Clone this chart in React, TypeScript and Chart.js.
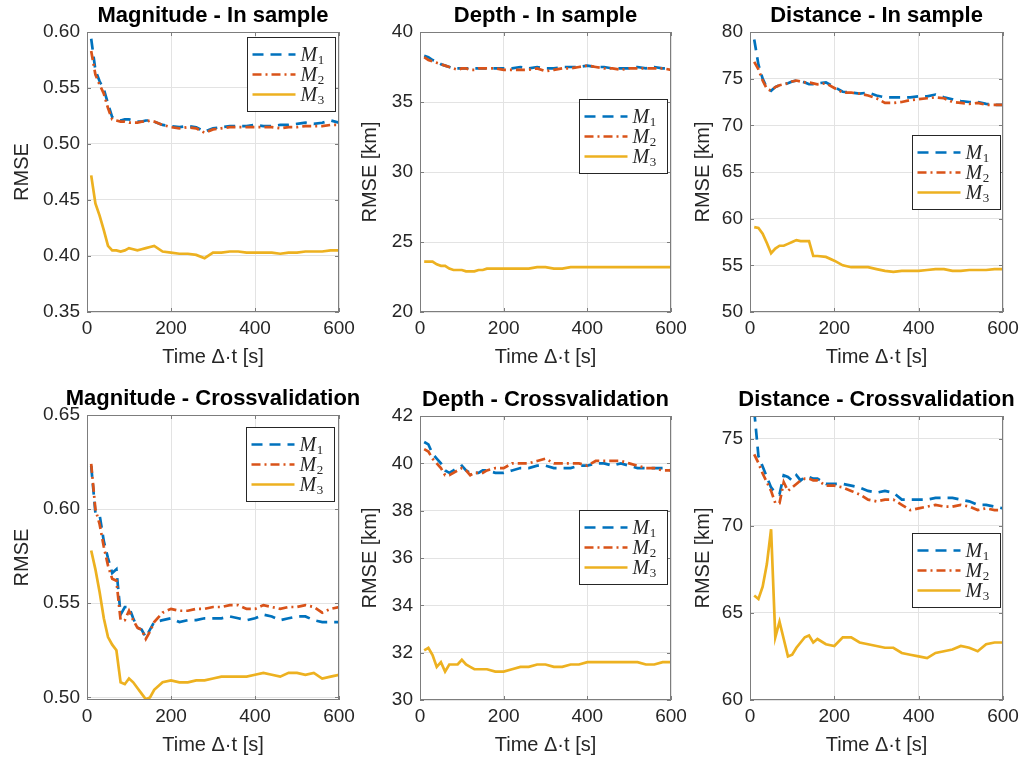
import React, { useEffect, useRef } from "react";
import { Chart, registerables } from "chart.js";

Chart.register(...registerables);

// ---------------- data ----------------
const TIME = [10, 20, 30, 40, 50, 60, 70, 80, 90, 100, 110, 120, 130, 140, 150, 160, 180, 200, 220, 240, 260, 280, 300, 320, 340, 360, 380, 400, 420, 440, 460, 480, 500, 520, 540, 560, 580, 600];

const X_TICKS = [0, 200, 400, 600];
const SERIES_LABELS = ["M", "M", "M"];
const SERIES_SUBS = ["1", "2", "3"];

// Magnitude - In sample
const MAG_IN_M1 = [0.594, 0.566, 0.556, 0.549, 0.536, 0.524, 0.522, 0.521, 0.522, 0.522, 0.521, 0.520, 0.520, 0.521, 0.521, 0.520, 0.517, 0.516, 0.515, 0.516, 0.515, 0.511, 0.514, 0.515, 0.516, 0.516, 0.516, 0.517, 0.516, 0.516, 0.517, 0.517, 0.518, 0.519, 0.518, 0.519, 0.521, 0.519];
const MAG_IN_M2 = [0.583, 0.562, 0.553, 0.545, 0.532, 0.522, 0.521, 0.520, 0.520, 0.519, 0.519, 0.519, 0.520, 0.520, 0.521, 0.520, 0.517, 0.515, 0.514, 0.515, 0.514, 0.510, 0.513, 0.514, 0.515, 0.515, 0.515, 0.515, 0.515, 0.515, 0.514, 0.515, 0.515, 0.516, 0.516, 0.516, 0.517, 0.517];
const MAG_IN_M3 = [0.472, 0.447, 0.436, 0.423, 0.409, 0.405, 0.405, 0.404, 0.405, 0.407, 0.406, 0.405, 0.406, 0.407, 0.408, 0.409, 0.404, 0.403, 0.402, 0.402, 0.401, 0.398, 0.403, 0.403, 0.404, 0.404, 0.403, 0.403, 0.403, 0.403, 0.402, 0.403, 0.403, 0.404, 0.404, 0.404, 0.405, 0.405];

// Depth - In sample
const DEP_IN_M1 = [38.3, 38.2, 38.0, 37.9, 37.7, 37.6, 37.5, 37.4, 37.4, 37.4, 37.4, 37.4, 37.4, 37.4, 37.4, 37.4, 37.4, 37.4, 37.4, 37.5, 37.4, 37.5, 37.4, 37.4, 37.5, 37.5, 37.5, 37.6, 37.5, 37.5, 37.4, 37.4, 37.4, 37.5, 37.4, 37.5, 37.4, 37.4];
const DEP_IN_M2 = [38.2, 38.0, 37.9, 37.8, 37.7, 37.6, 37.5, 37.4, 37.3, 37.4, 37.4, 37.3, 37.3, 37.4, 37.4, 37.4, 37.4, 37.3, 37.3, 37.3, 37.3, 37.4, 37.2, 37.3, 37.4, 37.4, 37.5, 37.6, 37.5, 37.4, 37.4, 37.3, 37.4, 37.4, 37.4, 37.4, 37.4, 37.3];
const DEP_IN_M3 = [23.6, 23.6, 23.6, 23.4, 23.3, 23.3, 23.1, 23.0, 23.0, 23.0, 22.9, 22.9, 22.9, 23.0, 23.0, 23.1, 23.1, 23.1, 23.1, 23.1, 23.1, 23.2, 23.2, 23.1, 23.1, 23.2, 23.2, 23.2, 23.2, 23.2, 23.2, 23.2, 23.2, 23.2, 23.2, 23.2, 23.2, 23.2];

// Distance - In sample
const DIS_IN_M1 = [79.2, 76.5, 75.0, 74.0, 73.7, 74.1, 74.3, 74.4, 74.5, 74.7, 74.8, 74.7, 74.6, 74.4, 74.4, 74.5, 74.6, 74.1, 73.6, 73.5, 73.4, 73.5, 73.2, 73.0, 73.0, 73.0, 73.0, 73.1, 73.1, 73.3, 73.0, 72.8, 72.6, 72.5, 72.5, 72.3, 72.2, 72.2];
const DIS_IN_M2 = [76.8, 76.0, 74.8, 73.9, 73.7, 74.1, 74.3, 74.4, 74.5, 74.7, 74.8, 74.7, 74.6, 74.6, 74.5, 74.4, 74.5, 74.0, 73.5, 73.5, 73.4, 73.2, 72.9, 72.4, 72.4, 72.5, 72.7, 72.8, 72.9, 73.0, 72.9, 72.5, 72.4, 72.3, 72.4, 72.2, 72.2, 72.2];
const DIS_IN_M3 = [59.1, 59.0, 58.4, 57.4, 56.3, 56.8, 57.1, 57.1, 57.3, 57.5, 57.7, 57.6, 57.6, 57.6, 56.0, 56.0, 55.9, 55.5, 55.0, 54.8, 54.8, 54.8, 54.6, 54.4, 54.3, 54.4, 54.4, 54.4, 54.5, 54.6, 54.6, 54.4, 54.4, 54.5, 54.5, 54.5, 54.6, 54.6];

// Magnitude - Crossvalidation
const MAG_CV_M1 = [0.623, 0.598, 0.597, 0.583, 0.574, 0.566, 0.568, 0.544, 0.548, 0.548, 0.542, 0.537, 0.536, 0.532, 0.536, 0.540, 0.541, 0.542, 0.540, 0.541, 0.541, 0.542, 0.542, 0.542, 0.543, 0.542, 0.541, 0.542, 0.544, 0.543, 0.541, 0.542, 0.543, 0.543, 0.541, 0.540, 0.540, 0.540];
const MAG_CV_M2 = [0.624, 0.600, 0.592, 0.580, 0.570, 0.563, 0.562, 0.541, 0.541, 0.546, 0.541, 0.537, 0.536, 0.531, 0.535, 0.540, 0.545, 0.547, 0.546, 0.546, 0.547, 0.547, 0.548, 0.548, 0.549, 0.549, 0.547, 0.547, 0.549, 0.548, 0.547, 0.548, 0.548, 0.549, 0.548, 0.545, 0.547, 0.548];
const MAG_CV_M3 = [0.578, 0.568, 0.556, 0.542, 0.532, 0.528, 0.525, 0.508, 0.507, 0.510, 0.508, 0.505, 0.502, 0.499, 0.500, 0.504, 0.508, 0.509, 0.508, 0.508, 0.509, 0.509, 0.510, 0.511, 0.511, 0.511, 0.511, 0.512, 0.513, 0.512, 0.511, 0.513, 0.513, 0.512, 0.513, 0.510, 0.511, 0.512];

// Depth - Crossvalidation
const DEP_CV_M1 = [40.9, 40.8, 40.4, 40.2, 40.0, 39.7, 39.6, 39.7, 39.8, 39.9, 39.7, 39.6, 39.6, 39.6, 39.7, 39.7, 39.6, 39.6, 39.7, 39.8, 39.8, 39.9, 39.9, 39.8, 39.8, 39.8, 39.9, 39.9, 40.0, 40.0, 39.9, 40.0, 39.9, 39.8, 39.8, 39.8, 39.8, 39.7];
const DEP_CV_M2 = [40.6, 40.5, 40.2, 40.0, 39.8, 39.5, 39.5, 39.6, 39.7, 39.8, 39.7, 39.5, 39.6, 39.6, 39.6, 39.7, 39.8, 39.8, 40.0, 40.0, 40.0, 40.1, 40.2, 40.0, 40.0, 40.0, 40.0, 39.9, 40.1, 40.1, 40.1, 40.1, 40.0, 39.9, 39.8, 39.8, 39.7, 39.7];
const DEP_CV_M3 = [32.1, 32.2, 31.9, 31.4, 31.6, 31.2, 31.5, 31.5, 31.5, 31.7, 31.5, 31.4, 31.3, 31.3, 31.3, 31.3, 31.2, 31.2, 31.3, 31.4, 31.4, 31.5, 31.5, 31.4, 31.4, 31.5, 31.5, 31.6, 31.6, 31.6, 31.6, 31.6, 31.6, 31.6, 31.5, 31.5, 31.6, 31.6];

// Distance - Crossvalidation
const DIS_CV_M1 = [76.6, 74.0, 73.4, 72.8, 72.2, 71.9, 71.8, 72.9, 72.8, 72.6, 72.9, 72.6, 72.8, 72.8, 72.7, 72.7, 72.4, 72.4, 72.4, 72.3, 72.2, 72.0, 71.9, 72.0, 71.9, 71.5, 71.5, 71.5, 71.5, 71.6, 71.6, 71.6, 71.5, 71.4, 71.2, 71.2, 71.1, 71.0];
const DIS_CV_M2 = [74.1, 73.6, 73.0, 72.5, 72.0, 71.3, 71.3, 72.5, 72.0, 72.2, 72.4, 72.6, 72.7, 72.7, 72.6, 72.6, 72.3, 72.3, 72.2, 72.0, 71.8, 71.5, 71.4, 71.5, 71.5, 71.2, 70.9, 71.0, 71.1, 71.2, 71.1, 71.1, 71.2, 71.1, 70.9, 71.0, 70.9, 70.9];
const DIS_CV_M3 = [66.0, 65.8, 66.5, 67.8, 69.8, 63.6, 64.5, 63.5, 62.5, 62.6, 63.0, 63.3, 63.6, 63.7, 63.3, 63.5, 63.2, 63.1, 63.6, 63.6, 63.3, 63.2, 63.1, 63.0, 63.0, 62.7, 62.6, 62.5, 62.4, 62.7, 62.8, 62.9, 63.1, 63.0, 62.8, 63.2, 63.3, 63.3];

// ---------------- styles / layout ----------------
const W = 1029;
const H = 767;
const FONT = '"Liberation Sans", Arial, Helvetica, sans-serif';
const SERIF = '"Liberation Serif", "DejaVu Serif", serif';
const COLORS = ["#0072BD", "#D95319", "#EDB120"];
const DASHES: number[][] = [[11, 7], [9, 4, 2, 4], []];
const LINE_W = 2.7;
const X_AXIS_H = 57;
const TICK_FONT = 19;
const LABEL_FONT = 20;
const TITLE_FONT = 22;
const TEXT_COLOR = "#262626";
const GRID_COLOR = "#e3e3e3";
const BOX_COLOR = "#7d7d7d";
const LEG_W = 88;
const LEG_H = 74;

type Panel = {
  title: string;
  yTitle: string;
  series: number[][];
  yMin: number;
  yMax: number;
  yStep: number;
  decimals: number;
  area: { left: number; top: number; right: number; bottom: number };
  yw: number;
  legend: { right: number; top: number };
};

const PANELS: Panel[] = [
  { title: "Magnitude - In sample", yTitle: "RMSE", series: [MAG_IN_M1, MAG_IN_M2, MAG_IN_M3], yMin: 0.35, yMax: 0.6, yStep: 0.05, decimals: 2, area: { left: 87, top: 32, right: 339, bottom: 312 }, yw: 77, legend: { right: 4, top: 5 } },
  { title: "Depth - In sample", yTitle: "RMSE [km]", series: [DEP_IN_M1, DEP_IN_M2, DEP_IN_M3], yMin: 20, yMax: 40, yStep: 5, decimals: 0, area: { left: 420, top: 32, right: 671, bottom: 312 }, yw: 62, legend: { right: 4, top: 67 } },
  { title: "Distance - In sample", yTitle: "RMSE [km]", series: [DIS_IN_M1, DIS_IN_M2, DIS_IN_M3], yMin: 50, yMax: 80, yStep: 5, decimals: 0, area: { left: 750, top: 32, right: 1003, bottom: 312 }, yw: 59, legend: { right: 3, top: 103 } },
  { title: "Magnitude - Crossvalidation", yTitle: "RMSE", series: [MAG_CV_M1, MAG_CV_M2, MAG_CV_M3], yMin: 0.4986, yMax: 0.65, yStep: 0.05, decimals: 2, area: { left: 87, top: 415, right: 339, bottom: 700 }, yw: 77, legend: { right: 5, top: 12 } },
  { title: "Depth - Crossvalidation", yTitle: "RMSE [km]", series: [DEP_CV_M1, DEP_CV_M2, DEP_CV_M3], yMin: 30, yMax: 42, yStep: 2, decimals: 0, area: { left: 420, top: 416, right: 671, bottom: 700 }, yw: 62, legend: { right: 4, top: 94 } },
  { title: "Distance - Crossvalidation", yTitle: "RMSE [km]", series: [DIS_CV_M1, DIS_CV_M2, DIS_CV_M3], yMin: 60, yMax: 76.3, yStep: 5, decimals: 0, area: { left: 750, top: 416, right: 1003, bottom: 700 }, yw: 59, legend: { right: 3, top: 117 } },
];

function decorPlugin(p: Panel) {
  return {
    id: "decor",
    afterDatasetsDraw(chart: any) {
      const { ctx, chartArea: a, scales } = chart;
      ctx.save();
      ctx.strokeStyle = BOX_COLOR;
      ctx.lineWidth = 1;
      ctx.beginPath();
      scales.x.ticks.forEach((t: any) => {
        const px = Math.round(scales.x.getPixelForValue(t.value)) + 0.5;
        ctx.moveTo(px, a.bottom);
        ctx.lineTo(px, a.bottom - 4);
        ctx.moveTo(px, a.top);
        ctx.lineTo(px, a.top + 4);
      });
      scales.y.ticks.forEach((t: any) => {
        const py = Math.round(scales.y.getPixelForValue(t.value)) + 0.5;
        ctx.moveTo(a.left, py);
        ctx.lineTo(a.left + 4, py);
        ctx.moveTo(a.right, py);
        ctx.lineTo(a.right - 4, py);
      });
      ctx.stroke();
      const l = Math.round(a.left) + 0.5;
      const t = Math.round(a.top) + 0.5;
      const r = Math.round(a.right) - 0.5;
      const b = Math.round(a.bottom) - 0.5;
      ctx.strokeRect(l, t, r - l, b - t);
      ctx.restore();
    },
    afterDraw(chart: any) {
      const { ctx, chartArea: a } = chart;
      ctx.save();
      ctx.fillStyle = "#000";
      ctx.font = `bold ${TITLE_FONT}px ${FONT}`;
      ctx.textAlign = "center";
      ctx.textBaseline = "middle";
      ctx.fillText(p.title, (a.left + a.right) / 2, a.top - 16);
      const bx = Math.round(a.right - p.legend.right - LEG_W) + 0.5;
      const by = Math.round(a.top + p.legend.top) + 0.5;
      ctx.fillStyle = "#fff";
      ctx.fillRect(bx, by, LEG_W, LEG_H);
      ctx.strokeStyle = TEXT_COLOR;
      ctx.lineWidth = 1;
      ctx.strokeRect(bx, by, LEG_W, LEG_H);
      for (let k = 0; k < 3; k++) {
        const y = by + 17 + k * 20;
        ctx.beginPath();
        ctx.setLineDash(DASHES[k]);
        ctx.strokeStyle = COLORS[k];
        ctx.lineWidth = LINE_W;
        ctx.moveTo(bx + 5, y);
        ctx.lineTo(bx + 48, y);
        ctx.stroke();
        ctx.setLineDash([]);
        ctx.fillStyle = TEXT_COLOR;
        ctx.textAlign = "left";
        ctx.textBaseline = "alphabetic";
        ctx.font = `italic 20px ${SERIF}`;
        const tx = bx + 53;
        ctx.fillText(SERIES_LABELS[k], tx, y + 6);
        const mw = ctx.measureText(SERIES_LABELS[k]).width;
        ctx.font = `13px ${SERIF}`;
        ctx.fillText(SERIES_SUBS[k], tx + mw + 0.5, y + 9);
      }
      ctx.restore();
    },
  };
}

function makeConfig(p: Panel): any {
  const datasets = p.series.map((vals, k) => ({
    label: SERIES_LABELS[k] + SERIES_SUBS[k],
    data: TIME.map((t, i) => ({ x: t, y: vals[i] })),
    borderColor: COLORS[k],
    backgroundColor: COLORS[k],
    borderWidth: LINE_W,
    borderDash: DASHES[k],
    pointRadius: 0,
    tension: 0,
    fill: false,
    order: 3 - k,
  }));
  return {
    type: "line",
    data: { datasets },
    options: {
      responsive: false,
      animation: false,
      devicePixelRatio: 1,
      events: [],
      layout: {
        padding: {
          left: p.area.left - p.yw,
          right: W - p.area.right,
          top: p.area.top,
          bottom: H - p.area.bottom - X_AXIS_H,
        },
      },
      plugins: {
        legend: { display: false },
        tooltip: { enabled: false },
        title: { display: false },
      },
      scales: {
        x: {
          type: "linear",
          min: X_TICKS[0],
          max: X_TICKS[X_TICKS.length - 1],
          afterBuildTicks: (s: any) => {
            s.ticks = X_TICKS.map((v) => ({ value: v }));
          },
          ticks: {
            font: { family: FONT, size: TICK_FONT },
            color: TEXT_COLOR,
            padding: 5,
            maxRotation: 0,
            callback: (v: any) => String(v),
          },
          grid: { color: GRID_COLOR, drawTicks: false, lineWidth: 1 },
          border: { display: false },
          title: {
            display: true,
            text: "Time \u0394\u00b7t [s]",
            font: { family: FONT, size: LABEL_FONT },
            color: TEXT_COLOR,
            padding: 0,
          },
          afterFit: (s: any) => {
            s.height = X_AXIS_H;
          },
        },
        y: {
          type: "linear",
          min: p.yMin,
          max: p.yMax,
          ticks: {
            stepSize: p.yStep,
            includeBounds: false,
            font: { family: FONT, size: TICK_FONT },
            color: TEXT_COLOR,
            padding: 7,
            callback: (v: any) => Number(v).toFixed(p.decimals),
          },
          grid: { color: GRID_COLOR, drawTicks: false, lineWidth: 1 },
          border: { display: false },
          title: {
            display: true,
            text: p.yTitle,
            font: { family: FONT, size: LABEL_FONT },
            color: TEXT_COLOR,
            padding: 0,
          },
          afterFit: (s: any) => {
            s.width = p.yw;
          },
        },
      },
    },
    plugins: [decorPlugin(p)],
  };
}

export default function App() {
  const refs = useRef<(HTMLCanvasElement | null)[]>([]);
  useEffect(() => {
    const charts = PANELS.map((p, i) => new Chart(refs.current[i] as HTMLCanvasElement, makeConfig(p)));
    return () => charts.forEach((c) => c.destroy());
  }, []);
  return (
    <div style={{ position: "fixed", left: 0, top: 0, width: W, height: H, background: "#fff" }}>
      {PANELS.map((p, i) => (
        <canvas
          key={i}
          ref={(el) => {
            refs.current[i] = el;
          }}
          width={W}
          height={H}
          style={{ position: "absolute", left: 0, top: 0, width: W, height: H }}
        />
      ))}
    </div>
  );
}
